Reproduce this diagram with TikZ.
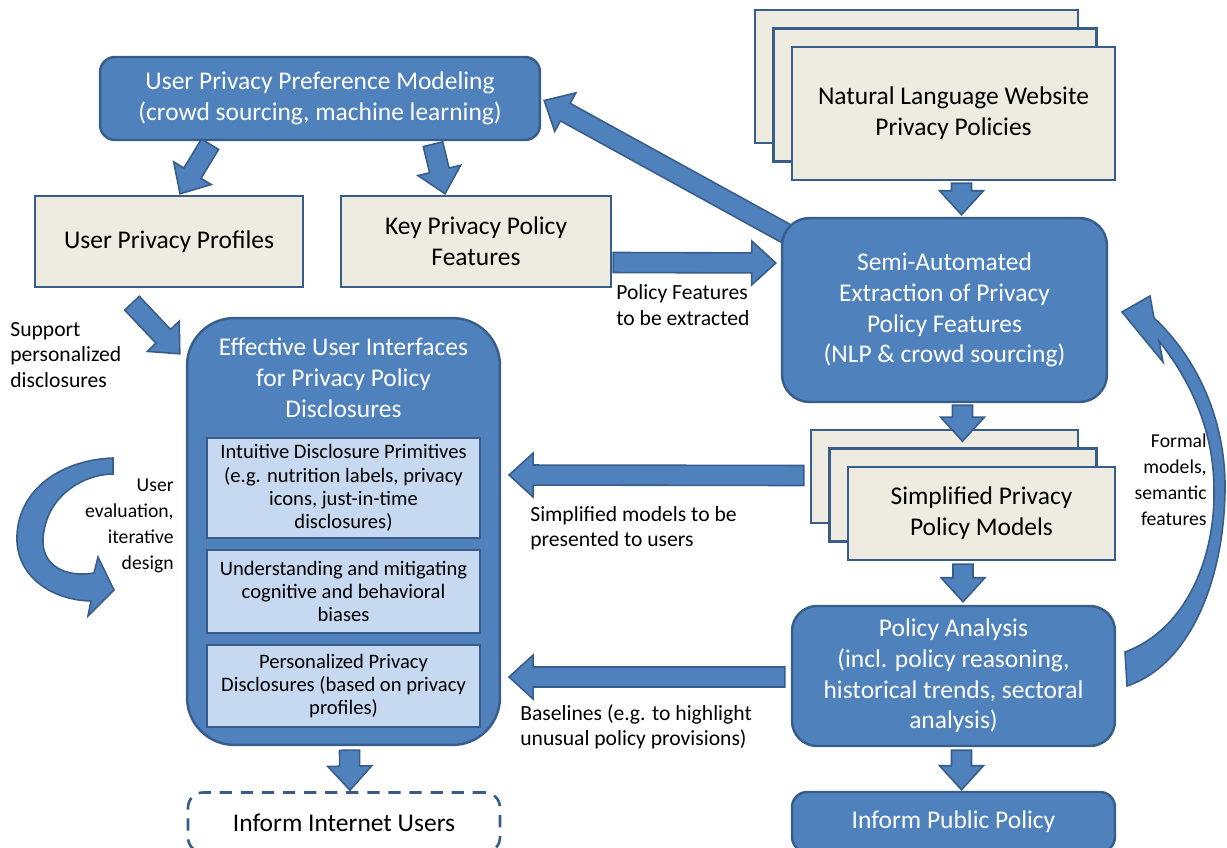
\documentclass[tikz,border=0pt]{standalone}
\usepackage{fontspec}
\setmainfont{Carlito}
\usepackage{tikz}
\usetikzlibrary{calc, backgrounds}
\usepackage{xcolor}

\definecolor{boxblue}{HTML}{4F81BD}
\definecolor{boxedge}{HTML}{385D8A}
\definecolor{paper}{HTML}{EEECE1}
\definecolor{lightblue}{HTML}{C6D9F1}

\newcommand{\boxfont}{\fontsize{14.5}{17.5}\selectfont}
\newcommand{\innerfont}{\fontsize{11.7}{13.3}\selectfont}
\newcommand{\notefont}{\fontsize{12.3}{14.5}\selectfont}
\newcommand{\sidefont}{\fontsize{11.2}{14.8}\selectfont}

% block arrow from #1 to #2 (tip)
\newcommand{\fatarrow}[2]{%
    \coordinate (hb) at ($(#2)!13.7pt!(#1)$);
    \draw[fatarr] ($(#1)!5.7pt!90:(#2)$) -- ($(hb)!5.7pt!90:(#2)$) -- ($(hb)!12.5pt!90:(#2)$)
        -- (#2) -- ($(hb)!12.5pt!-90:(#2)$) -- ($(hb)!5.7pt!-90:(#2)$) -- ($(#1)!5.7pt!-90:(#2)$) -- cycle;
}

\tikzset{
    bluebox/.style={draw=boxedge, fill=boxblue, line width=1.4pt, rounded corners=#1,
        text=white, align=center, font=\boxfont, inner sep=0pt},
    bluebox/.default=0.3cm,
    paperbox/.style={draw=boxedge, fill=paper, line width=1.4pt, text=black,
        align=center, font=\boxfont, inner sep=0pt},
    innerbox/.style={draw=boxedge, fill=lightblue, line width=1.2pt, align=center,
        font=\innerfont, minimum width=5.46cm, inner sep=0pt},
    dashbox/.style={draw=boxedge, fill=white, line width=1.5pt, dash pattern=on 7pt off 5pt,
        rounded corners=0.3cm, align=center, font=\boxfont, inner sep=0pt},
    note/.style={font=\notefont, inner sep=0pt},
    fatarr/.style={fill=boxblue, draw=boxedge, line width=0.9pt},
}

\begin{document}
\begin{tikzpicture}[x=0.02cm, y=-0.02cm]
    \useasboundingbox (0,0) rectangle (1227,848);

    % left column
    \node[bluebox, minimum width=8.8cm, minimum height=1.66cm] (uppm) at (320,98.5)
        {User Privacy Preference Modeling\\(crowd sourcing, machine learning)};
    \node[paperbox, minimum width=5.36cm, minimum height=1.82cm] (upp) at (169,241.5) {User Privacy Profiles};
    \node[paperbox, minimum width=5.4cm, minimum height=1.82cm] (kppf) at (476,241.5) {Key Privacy Policy\\Features};

    \node[bluebox=0.95cm, minimum width=6.26cm, minimum height=8.54cm] (eui) at (343.5,531.5) {};
    \node[font=\boxfont, text=white, align=center, inner sep=0pt] (euititle) at ($(eui.north)+(0,61)$)
        {Effective User Interfaces\\for Privacy Policy\\Disclosures};
    \node[innerbox, minimum height=2cm] (in1) at (343.5,488)
        {Intuitive Disclosure Primitives\\(e.g. nutrition labels, privacy\\icons, just-in-time\\disclosures)};
    \node[innerbox, minimum height=1.66cm] (in2) at (343.5,591.5)
        {Understanding and mitigating\\cognitive and behavioral\\biases};
    \node[innerbox, minimum height=1.64cm] (in3) at (343.5,686)
        {Personalized Privacy\\Disclosures (based on privacy\\profiles)};
    \node[dashbox, minimum width=6.24cm, minimum height=1.2cm] (iiu) at (344,822.5) {Inform Internet Users};

    % right column
    \foreach \k/\nm in {2/nlwback, 1/nlwmid} {
        \node[paperbox, minimum width=6.46cm, minimum height=2.66cm] (\nm) at ($(953.5,113.5)-(18.5*\k,18.5*\k)$) {};
    }
    \node[paperbox, minimum width=6.46cm, minimum height=2.66cm] (nlw) at (953.5,113.5)
        {Natural Language Website\\Privacy Policies};
    \node[bluebox=0.55cm, minimum width=6.5cm, minimum height=3.68cm] (semi) at (944.5,310)
        {Semi-Automated\\Extraction of Privacy\\Policy Features\\(NLP \& crowd sourcing)};
    \foreach \k/\nm in {2/simpback, 1/simpmid} {
        \node[paperbox, minimum width=5.34cm, minimum height=1.86cm] (\nm) at ($(981.5,513.5)-(18.5*\k,18.5*\k)$) {};
    }
    \node[paperbox, minimum width=5.34cm, minimum height=1.86cm] (simp) at (981.5,513.5)
        {Simplified Privacy\\Policy Models};
    \node[bluebox=0.5cm, minimum width=6.46cm, minimum height=2.8cm] (pa) at (953.5,676)
        {Policy Analysis\\(incl. policy reasoning,\\historical trends, sectoral\\analysis)};
    \node[bluebox, minimum width=6.46cm, minimum height=1.2cm] (ipp) at (953.5,822) {Inform Public Policy};

    % arrow ends
    \coordinate (t1) at ($(uppm.south)+(-110,3)$);   \coordinate (h1) at ($(upp.north)+(11,-1)$);
    \coordinate (t2) at ($(uppm.south)+(113,3)$);    \coordinate (h2) at ($(kppf.north)+(-31,-1)$);
    \coordinate (t3) at ($(kppf.east)+(1,21)$);      \coordinate (h3) at ($(semi.west)+(-5,-47)$);
    \coordinate (t4) at ($(semi.north west)+(22,26)$); \coordinate (h4) at ($(uppm.east)+(3,2)$);
    \coordinate (t5) at ($(upp.south)+(-37,15)$);    \coordinate (h5) at ($(eui.north west)+(-6,37)$);
    \coordinate (t6) at ($(nlw.south)+(8,2)$);       \coordinate (h6) at ($(semi.north)+(17,-2)$);
    \coordinate (t7) at ($(semi.south)+(18,2)$);     \coordinate (h7) at ($(semi.south)+(18,38)$);
    \coordinate (t8) at ($(simp.south)+(-18.5,3)$);  \coordinate (h8) at ($(pa.north)+(9.5,-3)$);
    \coordinate (t9) at ($(pa.south)+(8,3)$);        \coordinate (h9) at ($(ipp.north)+(8,-1)$);
    \coordinate (t10) at ($(eui.south)+(6,4)$);      \coordinate (h10) at ($(iiu.north)+(6,-1)$);
    \coordinate (t11) at ($(simpback.west)+(-6,-1)$); \coordinate (h11) at ($(in1.east)+(28,-13)$);
    \coordinate (t12) at ($(pa.west)+(-6,1)$);       \coordinate (h12) at ($(in3.east)+(28,-9)$);

    \begin{scope}[on background layer]
        \fatarrow{t4}{h4}
    \end{scope}
    \fatarrow{t1}{h1}
    \fatarrow{t2}{h2}
    \fatarrow{t3}{h3}
    \fatarrow{t5}{h5}
    \fatarrow{t6}{h6}
    \fatarrow{t7}{h7}
    \fatarrow{t8}{h8}
    \fatarrow{t9}{h9}
    \fatarrow{t10}{h10}
    \fatarrow{t11}{h11}
    \fatarrow{t12}{h12}

    % curved arrows
    \draw[fatarr] (1125,652) .. controls (1185,630) and (1215,560) .. (1214,490)
        .. controls (1214,430) and (1190,380) .. (1159,341) -- (1163,362) -- (1122,312) -- (1150,296)
        -- (1154,318) .. controls (1197,358) and (1226,420) .. (1225,490)
        .. controls (1224,580) and (1190,665) .. (1127,686) -- cycle;
    \draw[fatarr] (113,458) -- (113,474) .. controls (85,474) and (45,495) .. (43,540)
        .. controls (42,565) and (65,578) .. (94,573) -- (98,557) -- (114,590) -- (88,616)
        -- (91,601) .. controls (50,600) and (15,575) .. (17,535)
        .. controls (19,490) and (60,460) .. (113,458) -- cycle;

    % labels
    \node[note, align=left, anchor=west] (lsupport) at (10,355) {Support\\personalized\\disclosures};
    \node[note, font=\sidefont, align=right, anchor=east] (leval) at (174,526) {User\\evaluation,\\iterative\\design};
    \node[note, align=left, anchor=west] (lextract) at (616,305) {Policy Features\\to be extracted};
    \node[note, align=left, anchor=west] (lsimpl) at (530,528) {Simplified models to be\\presented to users};
    \node[note, align=left, anchor=west] (lbase) at (520,727) {Baselines (e.g. to highlight\\unusual policy provisions)};
    \node[note, font=\sidefont, align=right, anchor=east] (lformal) at (1207,480) {Formal\\models,\\semantic\\features};
\end{tikzpicture}
\end{document}
